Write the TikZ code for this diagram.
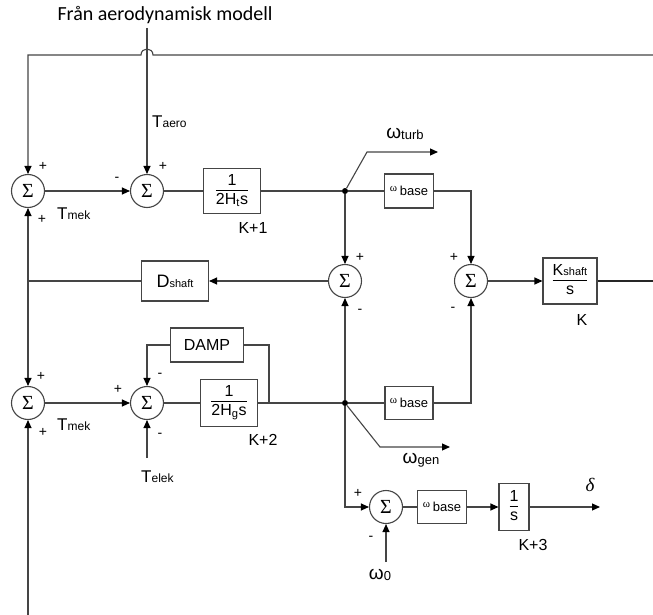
\documentclass[tikz,border=0pt]{standalone}
\usepackage{fontspec}
\setmainfont{Liberation Sans}
\newfontfamily\titlefont{Carlito}
\newfontfamily\serifw{Liberation Serif}
\usetikzlibrary{arrows.meta}
\definecolor{ln}{HTML}{454545}
\newcommand\fsz[1]{\fontsize{#1}{#1}\selectfont}
\newcommand\Tsub[2]{{\fsz{17}#1}{\fsz{12}#2}}
\newcommand\Wsub[2]{{\fsz{19}#1}{\fsz{13}\raisebox{-1pt}{#2}}}
\newcommand\frc[2]{$\frac{\hbox{\rule[-4pt]{0pt}{15pt}#1}}{\hbox{\rule[-3pt]{0pt}{16pt}#2}}$}
\newcommand\wbase{{\serifw\fsz{11}\raisebox{3pt}{ω}}\,{\fsz{13}\raisebox{-1pt}{base}}}
\begin{document}
\begin{tikzpicture}[x=1pt,y=-1pt,
  wire/.style={draw=ln,line width=1.1pt},
  arr/.style={wire,-{Triangle[length=8pt,width=7pt,color=black]}},
  sum/.style={circle,draw=ln,line width=1.1pt,minimum size=33pt,inner sep=0pt,font=\serifw\fsz{20}},
  blk/.style={rectangle,draw=ln,line width=1.1pt,inner sep=1pt,font=\fsz{16}},
  sg/.style={font=\fsz{14},inner sep=0pt},
  lbl/.style={font=\fsz{16},inner sep=0pt},
  dot/.style={circle,fill=black,inner sep=0pt,minimum size=6pt}]
\useasboundingbox (0,0) rectangle (653,615);

% title
\node[font=\titlefont\fsz{20},inner sep=0pt] (title) at (165,15) {Från aerodynamisk modell};
\coordinate (ts) at (147,28);

% sums
\node[sum] (s1) at (28,191) {Σ};
\node[sum] (s2) at (147,191) {Σ};
\node[sum] (s3) at (345,281) {Σ};
\node[sum] (s4) at (471,281) {Σ};
\node[sum] (s5) at (28,403) {Σ};
\node[sum] (s6) at (147,403) {Σ};
\node[sum] (s7) at (386,507) {Σ};

% blocks
\node[blk,minimum width=57pt,minimum height=45pt] (b1) at (232,191) {\frc{1}{2H\textsubscript{t}s}};
\node[blk,minimum width=49pt,minimum height=34pt] (wb1) at (409,191) {\wbase};
\node[blk,minimum width=54pt,minimum height=46pt] (ks) at (570,281) {\frc{K{\fsz{11}shaft}}{s}};
\node[blk,minimum width=67pt,minimum height=40pt,font=\fsz{18}] (ds) at (175,281) {D{\fsz{11}shaft}};
\node[blk,minimum width=73pt,minimum height=34pt,font=\fsz{16}] (damp) at (207,345) {DAMP};
\node[blk,minimum width=57pt,minimum height=47pt] (b2) at (229,403) {\frc{1}{2H\textsubscript{g}s}};
\node[blk,minimum width=48pt,minimum height=33pt] (wb2) at (409,403) {\wbase};
\node[blk,minimum width=49pt,minimum height=33pt] (wb3) at (442,507) {\wbase};
\node[blk,minimum width=30pt,minimum height=47pt] (is) at (514,507) {\frc{1}{s}};

% junctions and free ends
\node[dot] (j1) at (345,191) {};
\node[dot] (j2) at (345,403) {};
\coordinate (bl) at (28,281);
\coordinate (bot) at (28,615);
\coordinate (rt) at (653,55);
\coordinate (rk) at (653,281);
\coordinate (wt1) at (367,152);
\coordinate (wt2) at (438,152);
\coordinate (wg1) at (380,447);
\coordinate (wg2) at (450,447);
\coordinate (tel) at (147,458);
\coordinate (w0) at (386,562);
\coordinate (dl) at (600,507);

% top line with hop
\draw[arr] (rt) -- (153,55) .. controls (153,47) and (141,47) .. (141,55) -- (28,55) -- (s1.north);
\draw[arr] (ts) -- (s2.north);

% upper row
\draw[arr] (s1.east) -- (s2.west);
\draw[wire] (s2.east) -- (b1.west);
\draw[wire] (b1.east) -- (j1);
\draw[wire] (j1) -- (wb1.west);
\draw[arr] (wb1.east) -| (s4.north);
\draw[arr] (j1) -- (s3.north);
\draw[arr] (j1) -- (wt1) -- (wt2);

% middle row
\draw[arr] (s4.east) -- (ks.west);
\draw[draw=black!85,line width=2.2pt] (ks.east) -- (rk);
\draw[arr] (s3.west) -- (ds.east);
\draw[wire] (ds.west) -- (bl);
\draw[arr] (bl) -- (s1.south);
\draw[arr] (bl) -- (s5.north);
\draw[arr] (bot) -- (s5.south);

% lower row
\draw[arr] (s5.east) -- (s6.west);
\draw[wire] (s6.east) -- (b2.west);
\draw[wire] (b2.east) -- (j2);
\draw[arr] (damp.west) -| (s6.north);
\draw[wire] (damp.east) -- (269,345) -- (269,403);
\draw[arr] (tel) -- (s6.south);
\draw[wire] (j2) -- (wb2.west);
\draw[arr] (wb2.east) -| (s4.south);
\draw[arr] (j2) -- (s3.south);
\draw[arr] (j2) -- (wg1) -- (wg2);
\draw[arr] (j2) |- (s7.west);
\draw[wire] (s7.east) -- (wb3.west);
\draw[arr] (wb3.east) -- (is.west);
\draw[arr] (is.east) -- (dl);
\draw[arr] (w0) -- (s7.south);

% signs
\node[sg] at (43,166) {+};
\node[sg] at (42,219) {+};
\node[sg] at (163,166) {+};
\node[sg] at (117,179) {-};
\node[sg] at (360,257) {+};
\node[sg] at (360,311) {-};
\node[sg] at (454,257) {+};
\node[sg] at (453,309) {-};
\node[sg] at (41,376) {+};
\node[sg] at (43,432) {+};
\node[sg] at (118,389) {+};
\node[sg] at (160,375) {-};
\node[sg] at (160,435) {-};
\node[sg] at (358,493) {+};
\node[sg] at (371,538) {-};

% labels
\node[inner sep=0pt,anchor=west] at (152,122) {\Tsub{T}{aero}};
\node[inner sep=0pt,anchor=west] at (57,214) {\Tsub{T}{mek}};
\node[inner sep=0pt,anchor=west] at (57,425) {\Tsub{T}{mek}};
\node[inner sep=0pt,anchor=west] at (141,477) {\Tsub{T}{elek}};
\node[lbl] at (253,228) {K+1};
\node[lbl] at (263,440) {K+2};
\node[lbl] at (582,320) {K};
\node[lbl] at (533,545) {K+3};
\node[inner sep=0pt] at (405,134) {\Wsub{ω}{turb}};
\node[inner sep=0pt] at (421,460) {\Wsub{ω}{gen}};
\node[inner sep=0pt] at (380,575) {\Wsub{ω}{0}};
\node[inner sep=0pt,font=\serifw\itshape\fsz{19}] at (590,485) {δ};
\end{tikzpicture}
\end{document}
